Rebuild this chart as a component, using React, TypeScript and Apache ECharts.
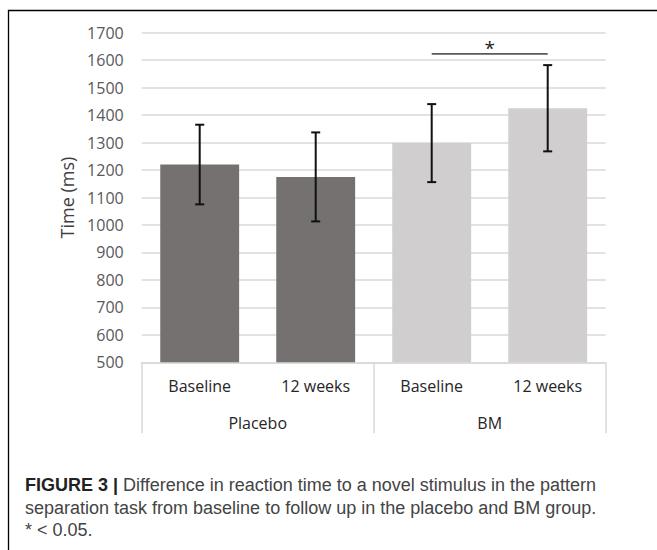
import React, { useEffect, useRef } from "react";
import * as echarts from "echarts";

const timeCategories = ["Baseline", "12 weeks", "Baseline", "12 weeks"];
const groupCategories = ["Placebo", "BM"];
const meanTime = [1220, 1175, 1298, 1425];
const errorTime = [145, 162, 142, 157];
const groupOfBar = [0, 0, 1, 1];
const groupColors = ["#767171", "#D0CECE"];
const sigFrom = [2];
const sigTo = [3];
const sigLevel = [1623];
const sigLabel = ["*"];
const captionLines = [
  "Difference in reaction time to a novel stimulus in the pattern",
  "separation task from baseline to follow up in the placebo and BM group.",
  "* < 0.05.",
];

export default function App() {
  const ref = useRef<HTMLDivElement>(null);
  useEffect(() => {
    const chart = echarts.init(ref.current!, null, { renderer: "svg" });
    const font = "'Open Sans', sans-serif";
    const capFont = "'Liberation Sans', Arial, sans-serif";
    const errData = meanTime.map((v, i) => [i, v - errorTime[i], v + errorTime[i]]);
    const sigData = sigFrom.map((f, i) => [f, sigTo[i], sigLevel[i]]);
    chart.setOption({
      animation: false,
      backgroundColor: "#ffffff",
      grid: { left: 141.7, right: 51.3, top: 32.7, bottom: 187.7, containLabel: false },
      xAxis: [
        {
          type: "category",
          position: "bottom",
          data: timeCategories,
          axisLine: { show: true, lineStyle: { color: "#d9d9d9", width: 1.5 } },
          axisTick: { show: false },
          axisLabel: { margin: 16, fontSize: 16, color: "#262626", fontFamily: font, interval: 0 },
        },
        {
          type: "category",
          position: "bottom",
          data: groupCategories,
          axisLine: { show: false },
          axisTick: { show: true, length: 71, lineStyle: { color: "#d9d9d9", width: 1.5 } },
          axisLabel: { margin: 53, fontSize: 16, color: "#262626", fontFamily: font, interval: 0 },
        },
      ],
      yAxis: {
        type: "value",
        min: 500,
        max: 1700,
        interval: 100,
        name: "Time (ms)",
        nameLocation: "middle",
        nameGap: 58,
        nameTextStyle: { fontSize: 18, color: "#404040", fontFamily: font },
        axisLine: { show: false },
        axisTick: { show: false },
        axisLabel: { margin: 18, fontSize: 16, color: "#595959", fontFamily: font, formatter: (v: number) => String(v) },
        splitLine: { lineStyle: { color: "#d9d9d9", width: 1.5 } },
      },
      series: [
        {
          type: "bar",
          xAxisIndex: 0,
          data: meanTime,
          barWidth: "68%",
          itemStyle: { color: (p: any) => groupColors[groupOfBar[p.dataIndex]] },
        },
        {
          type: "custom",
          xAxisIndex: 0,
          data: errData,
          encode: { x: 0, y: [1, 2] },
          z: 5,
          renderItem: (params: any, api: any) => {
            const lo = api.coord([api.value(0), api.value(1)]);
            const hi = api.coord([api.value(0), api.value(2)]);
            const hw = 4.5;
            const st = { stroke: "#111111", lineWidth: 2 };
            return {
              type: "group",
              children: [
                { type: "line", shape: { x1: hi[0], y1: hi[1], x2: lo[0], y2: lo[1] }, style: st },
                { type: "line", shape: { x1: hi[0] - hw, y1: hi[1], x2: hi[0] + hw, y2: hi[1] }, style: st },
                { type: "line", shape: { x1: lo[0] - hw, y1: lo[1], x2: lo[0] + hw, y2: lo[1] }, style: st },
              ],
            };
          },
        },
        {
          type: "custom",
          xAxisIndex: 0,
          data: sigData,
          encode: { x: [0, 1], y: 2 },
          clip: false,
          z: 5,
          renderItem: (params: any, api: any) => {
            const a = api.coord([api.value(0), api.value(2)]);
            const b = api.coord([api.value(1), api.value(2)]);
            const label = sigLabel[params.dataIndex];
            return {
              type: "group",
              children: [
                { type: "line", shape: { x1: a[0], y1: a[1], x2: b[0], y2: b[1] }, style: { stroke: "#595959", lineWidth: 1.6 } },
                {
                  type: "text",
                  x: (a[0] + b[0]) / 2,
                  y: a[1] - 6,
                  style: { text: label, fontSize: 19, fill: "#222222", fontFamily: font, align: "center", verticalAlign: "middle" },
                },
              ],
            };
          },
        },
      ],
      graphic: [
        {
          type: "polyline",
          shape: { points: [[8.5, 550], [8.5, 10.5], [657, 10.5]] },
          style: { stroke: "#000000", lineWidth: 1.3, fill: null },
          silent: true,
        },
        {
          type: "text",
          x: 25,
          y: 485,
          style: {
            text: "{b|FIGURE 3 |} " + captionLines[0],
            fontSize: 18,
            fontFamily: capFont,
            fill: "#444444",
            verticalAlign: "middle",
            rich: { b: { fontWeight: "bold", fontSize: 18, fill: "#222222", fontFamily: capFont } },
          },
        },
        {
          type: "text",
          x: 25,
          y: 507.5,
          style: { text: captionLines[1], fontSize: 18, fontFamily: capFont, fill: "#444444", verticalAlign: "middle" },
        },
        {
          type: "text",
          x: 25,
          y: 530,
          style: { text: captionLines[2], fontSize: 18, fontFamily: capFont, fill: "#444444", verticalAlign: "middle" },
        },
      ],
    });
    return () => chart.dispose();
  }, []);
  return <div ref={ref} style={{ position: "fixed", left: 0, top: 0, width: 657, height: 550 }} />;
}
